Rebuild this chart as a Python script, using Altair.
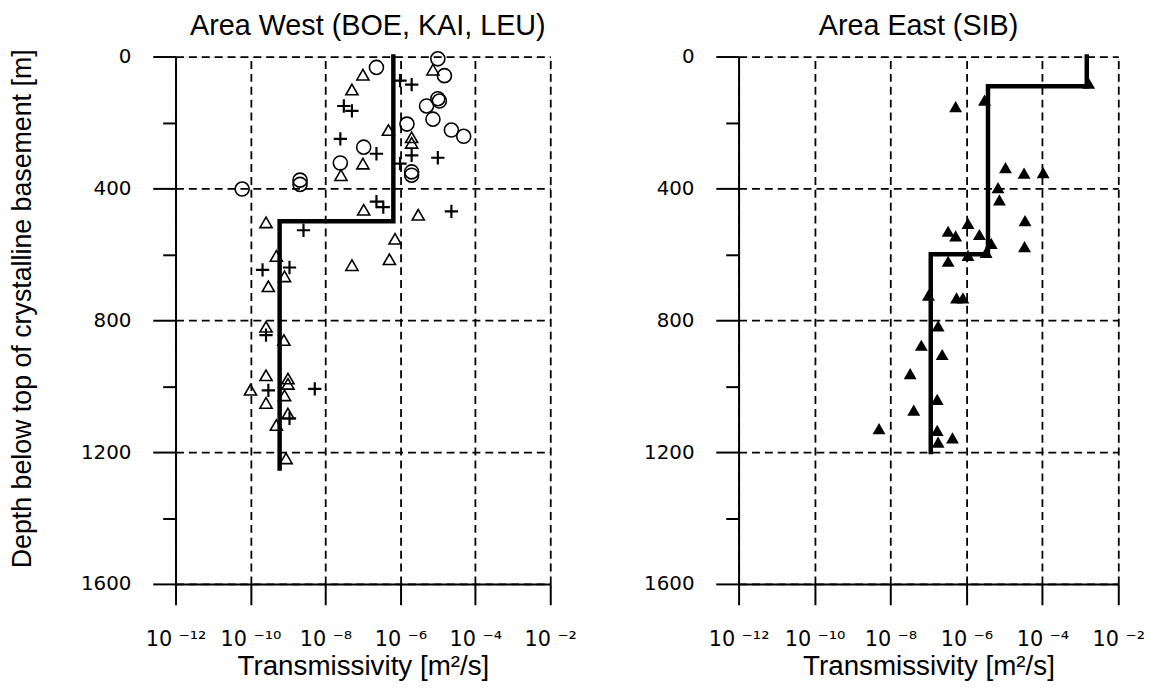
import altair as alt
import pandas as pd

# ---------------- data ----------------
X_TICKS = [1e-12, 1e-10, 1e-8, 1e-6, 1e-4, 1e-2]
X_TICK_LABELS = ["10 \u207b\u00b9\u00b2", "10 \u207b\u00b9\u2070", "10 \u207b\u2078",
                 "10 \u207b\u2076", "10 \u207b\u2074", "10 \u207b\u00b2"]
Y_TICKS = list(range(0, 1700, 100))

# Area West - open circles
w_circ_T = [2.3e-7, 1.0e-5, 1.5e-5, 1.0e-5, 1.1e-5, 5.0e-6, 7.4e-6, 1.5e-6, 2.3e-5,
            4.9e-5, 1.05e-7, 2.5e-8, 2.0e-6, 2.0e-6, 2.1e-9, 2.1e-9, 6.0e-11]
w_circ_d = [33, 7, 58, 128, 135, 150, 190, 205, 223,
            242, 275, 323, 350, 360, 375, 388, 402]

# Area West - open triangles
w_tri_T = [1.0e-7, 5.1e-8, 7.4e-6, 4.8e-7, 2.0e-6, 2.0e-6, 1.0e-7, 2.6e-8, 1.05e-7,
           3.0e-6, 2.6e-10, 7.2e-7, 5.1e-8, 5.1e-7, 4.9e-10, 8.1e-10, 3.0e-10, 2.6e-10,
           7.8e-10, 2.6e-10, 1.0e-10, 1.0e-9, 1.0e-9, 8.1e-10, 2.6e-10, 1.0e-9, 4.9e-10,
           8.9e-10]
w_tri_d = [55, 100, 40, 223, 245, 262, 325, 360, 465,
           480, 503, 553, 633, 615, 605, 667, 697, 820,
           860, 967, 1011, 977, 993, 1028, 1051, 1083, 1118,
           1219]

# Area West - crosses
w_plus_T = [9.8e-7, 2.0e-6, 3.1e-8, 5.1e-8, 2.5e-8, 2.3e-7, 2.0e-6, 1.0e-5, 9.8e-7,
            2.3e-7, 3.5e-7, 2.3e-5, 2.6e-9, 2.1e-10, 1.1e-9, 2.6e-10, 3.0e-10, 5.2e-9,
            1.1e-9]
w_plus_d = [73, 85, 150, 165, 250, 295, 300, 307, 325,
            440, 457, 470, 527, 647, 640, 845, 1013, 1008,
            1098]

# Area West - model (step line)
w_model_T = [6.5e-7, 6.5e-7, 6.0e-10, 6.0e-10]
w_model_d = [0, 500, 500, 1250]

# Area East - filled triangles
e_tri_T = [1.66e-3, 3.0e-6, 5.2e-7, 1.07e-5, 3.3e-5, 1.05e-4, 6.8e-6, 7.4e-6, 3.5e-5,
           1.1e-6, 3.3e-7, 5.2e-7, 2.2e-6, 4.5e-6, 3.4e-5, 1.1e-6, 3.3e-6, 3.3e-7,
           5.5e-7, 8.1e-7, 1.0e-7, 1.8e-7, 6.5e-8, 2.3e-7, 3.3e-8, 1.7e-7, 4.1e-8,
           5.0e-9, 1.7e-7, 1.8e-7, 4.3e-7]
e_tri_d = [81, 132, 152, 337, 354, 352, 398, 435, 498,
           506, 530, 544, 540, 567, 577, 603, 594, 621,
           732, 732, 724, 817, 876, 904, 962, 1040, 1073,
           1129, 1134, 1170, 1157]

# Area East - model (step line)
e_model_T = [1.48e-3, 1.48e-3, 3.7e-6, 3.7e-6, 1.15e-7, 1.15e-7]
e_model_d = [0, 90, 90, 600, 600, 1200]

# ---------------- styling ----------------
FONT = "Liberation Sans"
TICKFONT = "DejaVu Sans"
X_SCALE = alt.Scale(type="log", domain=[1e-12, 1e-2], nice=False)
Y_SCALE = alt.Scale(domain=[0, 1600], reverse=True, nice=False, zero=False)

label_expr = "[" + ",".join("'%s'" % s for s in X_TICK_LABELS) + "][round((log(datum.value)/LN10+12)/2)]"
DASH = [8, 5]


def x_axis():
    return alt.Axis(values=X_TICKS, labelExpr=label_expr, title="Transmissivity [m\u00b2/s]",
                    grid=True, gridDash=DASH, gridColor="black", gridWidth=1.8, gridOpacity=1,
                    ticks=True, tickSize=21, tickWidth=2, tickColor="black",
                    domain=True, domainColor="black", domainWidth=2,
                    labelFont=TICKFONT, labelFontSize=21, labelColor="black", labelPadding=24,
                    labelFlush=False, labelOverlap=False,
                    titleFont=FONT, titleFontSize=28, titleFontWeight="normal",
                    titleColor="black", titlePadding=3)


def y_axis(title):
    if title:
        kw = dict(title=title, titleFont=FONT, titleFontSize=27, titleFontWeight="normal",
                  titleColor="black", titlePadding=44, titleY=254)
    else:
        kw = dict(title=None)
    return alt.Axis(values=Y_TICKS,
                    labelExpr="datum.value % 400 === 0 ? datum.label : ''",
                    grid=True, gridDash=DASH, gridColor="black", gridWidth=1.8,
                    gridOpacity={"condition": {"test": "datum.value % 400 === 0", "value": 1}, "value": 0},
                    ticks=True, tickWidth=2, tickColor="black",
                    tickSize={"condition": {"test": "datum.value % 400 === 0", "value": 23}, "value": 13},
                    domain=True, domainColor="black", domainWidth=2,
                    labelFont=TICKFONT, labelFontSize=20, labelColor="black", labelPadding=22,
                    labelOverlap=False, labelFlush=False, format="d",
                    **kw)


def line_layer(T, d, ytitle):
    df = pd.DataFrame({"T": T, "d": d, "i": list(range(len(T)))})
    return alt.Chart(df).mark_line(color="black", strokeWidth=4.5, strokeCap="square").encode(
        x=alt.X("T:Q", scale=X_SCALE, axis=x_axis()),
        y=alt.Y("d:Q", scale=Y_SCALE, axis=y_axis(ytitle)),
        order="i:Q",
    )


def point_layer(T, d, shape, filled, size, sw=1.6):
    df = pd.DataFrame({"T": T, "d": d})
    return alt.Chart(df).mark_point(shape=shape, filled=filled, size=size, color="black",
                                    strokeWidth=sw, opacity=1).encode(
        x=alt.X("T:Q", scale=X_SCALE),
        y=alt.Y("d:Q", scale=Y_SCALE),
    )


CROSS = "M-1,0H1M0,-1V1"

west = alt.layer(
    line_layer(w_model_T, w_model_d, "Depth below top of crystalline basement [m]"),
    point_layer(w_circ_T, w_circ_d, "circle", False, 200),
    point_layer(w_tri_T, w_tri_d, "triangle-up", False, 150),
    point_layer(w_plus_T, w_plus_d, CROSS, False, 180, 2.2),
).properties(
    width=378, height=532,
    title=alt.TitleParams("Area West (BOE, KAI, LEU)", font=FONT, fontSize=29,
                          fontWeight="normal", color="black", anchor="middle", offset=6, dx=5),
)

east = alt.layer(
    line_layer(e_model_T, e_model_d, None),
    point_layer(e_tri_T, e_tri_d, "triangle-up", True, 170),
).properties(
    width=383, height=532,
    title=alt.TitleParams("Area East (SIB)", font=FONT, fontSize=29,
                          fontWeight="normal", color="black", anchor="middle", offset=6, dx=-10),
)

chart = alt.hconcat(west, east, spacing=190, bounds="flush").properties(
    padding={"left": 0, "top": 0, "right": 5, "bottom": 0},
).configure_view(
    stroke="black", strokeWidth=2,
).configure(
    background="white",
)

chart.save("out.html", embed_options={"renderer": "svg", "actions": False})
